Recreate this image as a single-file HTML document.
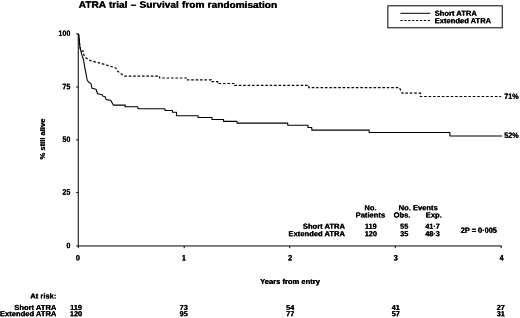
<!DOCTYPE html>
<html><head><meta charset="utf-8">
<style>
html,body{margin:0;padding:0;background:#fff;overflow:hidden;}
svg{display:block;filter:blur(0.3px);}
text{font-family:"Liberation Sans",sans-serif;font-weight:bold;fill:#000;}
</style></head><body>
<svg width="520" height="318" viewBox="0 0 520 318">
<rect x="-5" y="-5" width="530" height="328" fill="#fff"/>
<text transform="translate(78.6,7.8) rotate(0.03) scale(1.0,0.92)" font-size="10.1" text-anchor="start" word-spacing="0.45">ATRA trial – Survival from randomisation</text>
<text transform="translate(79.0,7.8) rotate(0.03) scale(1.0,0.92)" font-size="10.1" text-anchor="start" word-spacing="0.45">ATRA trial – Survival from randomisation</text>
<rect x="387.85" y="5.8" width="114.4" height="22.0" fill="none" stroke="#000" stroke-width="1"/>
<line x1="400.4" y1="13.3" x2="430.3" y2="13.3" stroke="#000" stroke-width="1"/>
<line x1="400.4" y1="20.5" x2="430.3" y2="20.5" stroke="#000" stroke-width="1" stroke-dasharray="2.3,1.6"/>
<text transform="translate(434.5,15.7) rotate(0.03) scale(1.0,0.97)" font-size="7.6" text-anchor="start">Short ATRA</text>
<text transform="translate(434.9,15.7) rotate(0.03) scale(1.0,0.97)" font-size="7.6" text-anchor="start">Short ATRA</text>
<text transform="translate(434.5,23.2) rotate(0.03) scale(1.0,0.97)" font-size="7.6" text-anchor="start">Extended ATRA</text>
<text transform="translate(434.9,23.2) rotate(0.03) scale(1.0,0.97)" font-size="7.6" text-anchor="start">Extended ATRA</text>
<path d="M78.25 33.4V245.95H501.6" fill="none" stroke="#000" stroke-width="1"/>
<path d="M76.2 33.9H78.25M76.2 87.0H78.25M76.2 139.8H78.25M76.2 192.6H78.25M76.2 245.95H78.25" stroke="#000" stroke-width="1"/>
<path d="M78.25 245.95v2.2M184.2 245.95v2.2M289.7 245.95v2.2M395.3 245.95v2.2M501.2 245.95v2.2" stroke="#000" stroke-width="1"/>
<text transform="translate(70.2,36.1) rotate(0.03) scale(0.95,1.05)" font-size="7.6" text-anchor="end">100</text>
<text transform="translate(70.6,36.1) rotate(0.03) scale(0.95,1.05)" font-size="7.6" text-anchor="end">100</text>
<text transform="translate(70.2,89.2) rotate(0.03) scale(0.95,1.05)" font-size="7.6" text-anchor="end">75</text>
<text transform="translate(70.6,89.2) rotate(0.03) scale(0.95,1.05)" font-size="7.6" text-anchor="end">75</text>
<text transform="translate(70.2,142.0) rotate(0.03) scale(0.95,1.05)" font-size="7.6" text-anchor="end">50</text>
<text transform="translate(70.6,142.0) rotate(0.03) scale(0.95,1.05)" font-size="7.6" text-anchor="end">50</text>
<text transform="translate(70.2,194.79999999999998) rotate(0.03) scale(0.95,1.05)" font-size="7.6" text-anchor="end">25</text>
<text transform="translate(70.6,194.79999999999998) rotate(0.03) scale(0.95,1.05)" font-size="7.6" text-anchor="end">25</text>
<text transform="translate(70.2,248.14999999999998) rotate(0.03) scale(0.95,1.05)" font-size="7.6" text-anchor="end">0</text>
<text transform="translate(70.6,248.14999999999998) rotate(0.03) scale(0.95,1.05)" font-size="7.6" text-anchor="end">0</text>
<text transform="translate(77.65,260.5) rotate(0.03) scale(0.95,1.05)" font-size="7.6" text-anchor="middle">0</text>
<text transform="translate(78.05,260.5) rotate(0.03) scale(0.95,1.05)" font-size="7.6" text-anchor="middle">0</text>
<text transform="translate(183.7,260.5) rotate(0.03) scale(0.95,1.05)" font-size="7.6" text-anchor="middle">1</text>
<text transform="translate(184.1,260.5) rotate(0.03) scale(0.95,1.05)" font-size="7.6" text-anchor="middle">1</text>
<text transform="translate(289.9,260.5) rotate(0.03) scale(0.95,1.05)" font-size="7.6" text-anchor="middle">2</text>
<text transform="translate(290.3,260.5) rotate(0.03) scale(0.95,1.05)" font-size="7.6" text-anchor="middle">2</text>
<text transform="translate(395.6,260.5) rotate(0.03) scale(0.95,1.05)" font-size="7.6" text-anchor="middle">3</text>
<text transform="translate(396.0,260.5) rotate(0.03) scale(0.95,1.05)" font-size="7.6" text-anchor="middle">3</text>
<text transform="translate(501.4,260.5) rotate(0.03) scale(0.95,1.05)" font-size="7.6" text-anchor="middle">4</text>
<text transform="translate(501.8,260.5) rotate(0.03) scale(0.95,1.05)" font-size="7.6" text-anchor="middle">4</text>
<text transform="translate(289.8,283.9) rotate(0.03) scale(1.0,0.97)" font-size="7.6" text-anchor="middle">Years from entry</text>
<text transform="translate(290.2,283.9) rotate(0.03) scale(1.0,0.97)" font-size="7.6" text-anchor="middle">Years from entry</text>
<text transform="translate(45.3,138.8) rotate(-90) scale(1.0,0.97)" font-size="7.6" text-anchor="middle">% still alive</text>
<text transform="translate(45.3,139.2) rotate(-90) scale(1.0,0.97)" font-size="7.6" text-anchor="middle">% still alive</text>
<path fill="none" stroke="#000" stroke-width="1.1" stroke-linejoin="round" d="M78.5 34 L79.2 38 L79.6 44 L80.1 48 L81.8 54.6 L83.6 60 L84.65 66.9 L85.8 72.7 L86.6 77 L87.2 80 L88.5 82 L91 83.6 L92 88.2 L96 89.2 L97.6 93.7 L102.1 94.8 L103.1 96.2 L105.1 96.8 L106.1 99.6 L110.7 100.2 L113.3 105.1 H125.2 V106.8 H137.5 L138.2 108.7 H165 V110.5 H172.5 V112.25 H176.5 V115.7 H198 V117.55 H212 V119.5 H223.6 V121.4 H237 V123.1 H287.7 V125.3 H308 V127.5 H311.8 V130.15 H369.2 V132.45 H449.9 V136 H502.2"/>
<path fill="none" stroke="#000" stroke-width="1.2" stroke-dasharray="2.6,1.82" d="M78.5 34 L79.2 38 L79.6 44 L80.1 48 L81 51.2 H83.2 L83.8 54.8 L85.5 57.5 L88 59.3 L90.4 60.6 L99.1 62.9 L107.2 65.2 L115.8 67.9 L117.5 71 L121 73.8 L124.5 76.1 H159.6 V78 H187.5 V79.95 H211.3 V81.7 H217.6 V83.5 H234.5 V85.4 H308.8 V87.65 H399.4 L402 93.2 H420.5 V96.5 H501.2"/>
<text transform="translate(504.1,99.0) rotate(0.03) scale(0.94,1.05)" font-size="7.6" text-anchor="start">71%</text>
<text transform="translate(504.5,99.0) rotate(0.03) scale(0.94,1.05)" font-size="7.6" text-anchor="start">71%</text>
<text transform="translate(504.1,138.1) rotate(0.03) scale(0.94,1.05)" font-size="7.6" text-anchor="start">52%</text>
<text transform="translate(504.5,138.1) rotate(0.03) scale(0.94,1.05)" font-size="7.6" text-anchor="start">52%</text>
<text transform="translate(370.3,210.3) rotate(0.03) scale(1.0,0.97)" font-size="7.6" text-anchor="middle">No.</text>
<text transform="translate(370.7,210.3) rotate(0.03) scale(1.0,0.97)" font-size="7.6" text-anchor="middle">No.</text>
<text transform="translate(370.2,217.6) rotate(0.03) scale(1.0,0.97)" font-size="7.6" text-anchor="middle">Patients</text>
<text transform="translate(370.6,217.6) rotate(0.03) scale(1.0,0.97)" font-size="7.6" text-anchor="middle">Patients</text>
<text transform="translate(418.0,210.3) rotate(0.03) scale(1.0,0.97)" font-size="7.6" text-anchor="middle">No. Events</text>
<text transform="translate(418.4,210.3) rotate(0.03) scale(1.0,0.97)" font-size="7.6" text-anchor="middle">No. Events</text>
<text transform="translate(401.8,217.6) rotate(0.03) scale(1.0,0.97)" font-size="7.6" text-anchor="middle">Obs.</text>
<text transform="translate(402.2,217.6) rotate(0.03) scale(1.0,0.97)" font-size="7.6" text-anchor="middle">Obs.</text>
<text transform="translate(433.6,217.6) rotate(0.03) scale(1.0,0.97)" font-size="7.6" text-anchor="middle">Exp.</text>
<text transform="translate(434.0,217.6) rotate(0.03) scale(1.0,0.97)" font-size="7.6" text-anchor="middle">Exp.</text>
<text transform="translate(370.6,228.8) rotate(0.03) scale(0.96,0.97)" font-size="7.6" text-anchor="middle">119</text>
<text transform="translate(371.0,228.8) rotate(0.03) scale(0.96,0.97)" font-size="7.6" text-anchor="middle">119</text>
<text transform="translate(404.0,228.8) rotate(0.03) scale(0.96,0.97)" font-size="7.6" text-anchor="middle">55</text>
<text transform="translate(404.4,228.8) rotate(0.03) scale(0.96,0.97)" font-size="7.6" text-anchor="middle">55</text>
<text transform="translate(432.3,228.8) rotate(0.03) scale(0.96,0.97)" font-size="7.6" text-anchor="middle">41·7</text>
<text transform="translate(432.7,228.8) rotate(0.03) scale(0.96,0.97)" font-size="7.6" text-anchor="middle">41·7</text>
<text transform="translate(344.8,228.8) rotate(0.03) scale(1.0,0.97)" font-size="7.6" text-anchor="end">Short ATRA</text>
<text transform="translate(345.2,228.8) rotate(0.03) scale(1.0,0.97)" font-size="7.6" text-anchor="end">Short ATRA</text>
<text transform="translate(370.6,236.2) rotate(0.03) scale(0.96,0.97)" font-size="7.6" text-anchor="middle">120</text>
<text transform="translate(371.0,236.2) rotate(0.03) scale(0.96,0.97)" font-size="7.6" text-anchor="middle">120</text>
<text transform="translate(404.0,236.2) rotate(0.03) scale(0.96,0.97)" font-size="7.6" text-anchor="middle">35</text>
<text transform="translate(404.4,236.2) rotate(0.03) scale(0.96,0.97)" font-size="7.6" text-anchor="middle">35</text>
<text transform="translate(432.3,236.2) rotate(0.03) scale(0.96,0.97)" font-size="7.6" text-anchor="middle">48·3</text>
<text transform="translate(432.7,236.2) rotate(0.03) scale(0.96,0.97)" font-size="7.6" text-anchor="middle">48·3</text>
<text transform="translate(344.8,236.2) rotate(0.03) scale(1.0,0.97)" font-size="7.6" text-anchor="end">Extended ATRA</text>
<text transform="translate(345.2,236.2) rotate(0.03) scale(1.0,0.97)" font-size="7.6" text-anchor="end">Extended ATRA</text>
<text transform="translate(460.6,233.0) rotate(0.03) scale(0.97,1.05)" font-size="7.6" text-anchor="start">2P = 0·005</text>
<text transform="translate(461.0,233.0) rotate(0.03) scale(0.97,1.05)" font-size="7.6" text-anchor="start">2P = 0·005</text>
<text transform="translate(56.2,298.4) rotate(0.03) scale(1.0,0.97)" font-size="7.6" text-anchor="end">At risk:</text>
<text transform="translate(56.6,298.4) rotate(0.03) scale(1.0,0.97)" font-size="7.6" text-anchor="end">At risk:</text>
<text transform="translate(56.2,310.1) rotate(0.03) scale(1.0,0.97)" font-size="7.6" text-anchor="end">Short ATRA</text>
<text transform="translate(56.6,310.1) rotate(0.03) scale(1.0,0.97)" font-size="7.6" text-anchor="end">Short ATRA</text>
<text transform="translate(75.8,310.1) rotate(0.03) scale(0.96,0.97)" font-size="7.6" text-anchor="middle">119</text>
<text transform="translate(76.2,310.1) rotate(0.03) scale(0.96,0.97)" font-size="7.6" text-anchor="middle">119</text>
<text transform="translate(183.5,310.1) rotate(0.03) scale(0.96,0.97)" font-size="7.6" text-anchor="middle">73</text>
<text transform="translate(183.9,310.1) rotate(0.03) scale(0.96,0.97)" font-size="7.6" text-anchor="middle">73</text>
<text transform="translate(290.0,310.1) rotate(0.03) scale(0.96,0.97)" font-size="7.6" text-anchor="middle">54</text>
<text transform="translate(290.4,310.1) rotate(0.03) scale(0.96,0.97)" font-size="7.6" text-anchor="middle">54</text>
<text transform="translate(395.6,310.1) rotate(0.03) scale(0.96,0.97)" font-size="7.6" text-anchor="middle">41</text>
<text transform="translate(396.0,310.1) rotate(0.03) scale(0.96,0.97)" font-size="7.6" text-anchor="middle">41</text>
<text transform="translate(504.6,310.1) rotate(0.03) scale(0.96,0.97)" font-size="7.6" text-anchor="end">27</text>
<text transform="translate(505.0,310.1) rotate(0.03) scale(0.96,0.97)" font-size="7.6" text-anchor="end">27</text>
<text transform="translate(56.2,316.3) rotate(0.03) scale(1.0,0.97)" font-size="7.6" text-anchor="end">Extended ATRA</text>
<text transform="translate(56.6,316.3) rotate(0.03) scale(1.0,0.97)" font-size="7.6" text-anchor="end">Extended ATRA</text>
<text transform="translate(75.8,316.3) rotate(0.03) scale(0.96,0.97)" font-size="7.6" text-anchor="middle">120</text>
<text transform="translate(76.2,316.3) rotate(0.03) scale(0.96,0.97)" font-size="7.6" text-anchor="middle">120</text>
<text transform="translate(183.5,316.3) rotate(0.03) scale(0.96,0.97)" font-size="7.6" text-anchor="middle">95</text>
<text transform="translate(183.9,316.3) rotate(0.03) scale(0.96,0.97)" font-size="7.6" text-anchor="middle">95</text>
<text transform="translate(290.0,316.3) rotate(0.03) scale(0.96,0.97)" font-size="7.6" text-anchor="middle">77</text>
<text transform="translate(290.4,316.3) rotate(0.03) scale(0.96,0.97)" font-size="7.6" text-anchor="middle">77</text>
<text transform="translate(395.6,316.3) rotate(0.03) scale(0.96,0.97)" font-size="7.6" text-anchor="middle">57</text>
<text transform="translate(396.0,316.3) rotate(0.03) scale(0.96,0.97)" font-size="7.6" text-anchor="middle">57</text>
<text transform="translate(504.6,316.3) rotate(0.03) scale(0.96,0.97)" font-size="7.6" text-anchor="end">31</text>
<text transform="translate(505.0,316.3) rotate(0.03) scale(0.96,0.97)" font-size="7.6" text-anchor="end">31</text>
</svg>
</body></html>
